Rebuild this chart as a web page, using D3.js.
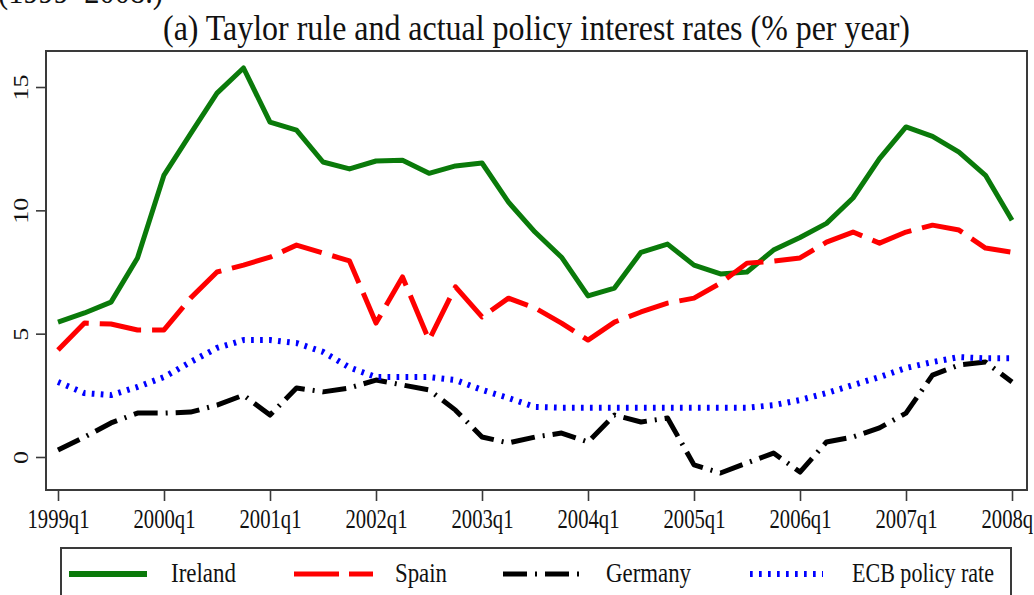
<!DOCTYPE html>
<html lang="en">
<head>
<meta charset="UTF-8">
<title>Taylor rule</title>
<style>
  body { margin:0; background:#fff; }
  svg { display:block; }
  text { font-family: "Liberation Serif", "DejaVu Serif", serif; fill:#111; }
</style>
</head>
<body>
<svg id="CHART" width="1034" height="595"></svg>
<script src="https://cdnjs.cloudflare.com/ajax/libs/d3/7.8.5/d3.min.js"></script>
<script>
// quarters 1999q1 .. 2008q1
const years = [1999, 2000, 2001, 2002, 2003, 2004, 2005, 2006, 2007, 2008];
const quarters = years.flatMap(function(y){ return [1,2,3,4].map(function(q){ return y + "q" + q; }); }).slice(0, 37);
const xTickLabels = ["1999q1","2000q1","2001q1","2002q1","2003q1","2004q1","2005q1","2006q1","2007q1","2008q1"];
const yTickValues = [0, 5, 10, 15];

const ireland = [5.47,5.84,6.28,8.07,11.43,13.1,14.75,15.77,13.58,13.25,11.96,11.68,12.0,12.03,11.5,11.8,11.92,10.33,9.12,8.1,6.53,6.85,8.3,8.63,7.78,7.42,7.5,8.39,8.9,9.47,10.5,12.1,13.38,13.0,12.36,11.42,9.6];
const spain = [4.34,5.43,5.39,5.15,5.15,6.44,7.5,7.78,8.1,8.59,8.27,7.95,5.43,7.3,4.74,6.9,5.68,6.44,6.04,5.43,4.74,5.47,5.88,6.24,6.44,7.05,7.86,7.94,8.07,8.71,9.12,8.67,9.12,9.4,9.2,8.47,8.3];
const germany = [0.28,0.81,1.38,1.78,1.78,1.82,2.1,2.51,1.7,2.8,2.64,2.8,3.12,2.92,2.72,1.9,0.81,0.57,0.81,0.97,0.61,1.7,1.42,1.58,-0.32,-0.65,-0.24,0.16,-0.61,0.61,0.81,1.18,1.78,3.32,3.73,3.85,3.04];
const ecb = [3.04,2.59,2.51,2.84,3.24,3.85,4.42,4.74,4.74,4.62,4.26,3.63,3.24,3.24,3.24,3.12,2.72,2.39,2.03,2.0,2.0,2.0,2.0,2.0,2.0,2.0,2.0,2.1,2.31,2.59,2.92,3.24,3.61,3.85,4.05,4.0,4.0];

const seriesNames = ["Ireland", "Spain", "Germany", "ECB policy rate"];
const seriesData = [ireland, spain, germany, ecb];

// styles
const seriesStyle = [
  { color:"#0a7a0a", width:5, dash:null },
  { color:"#ff0000", width:5, dash:"42,11" },
  { color:"#000000", width:5, dash:"24,8,2,8" },
  { color:"#0000ff", width:6, dash:"2.7,6.3" }
];

const plot = { left:46, top:51, right:1027, bottom:490 };

var svg = d3.select("#CHART");

var x = d3.scalePoint().domain(quarters).range([58, 1012]);
var y = d3.scaleLinear().domain([-1.338, 16.46]).range([plot.bottom, plot.top]);

// stray line from the page above (cut off)
svg.append("text")
  .attr("x", -2).attr("y", 3)
  .attr("font-size", 34)
  .attr("textLength", 165).attr("lengthAdjust", "spacingAndGlyphs")
  .text("(1999–2008.)");

// title
svg.append("text")
  .attr("x", 536.5).attr("y", 40)
  .attr("text-anchor", "middle")
  .attr("font-size", 35)
  .attr("textLength", 747).attr("lengthAdjust", "spacingAndGlyphs")
  .text("(a) Taylor rule and actual policy interest rates (% per year)");

// lines
var line = d3.line()
  .x(function(d, i){ return x(quarters[i]); })
  .y(function(d){ return y(d); });

var lines = svg.append("g");
seriesData.forEach(function(s, k){
  var st = seriesStyle[k];
  lines.append("path")
    .datum(s)
    .attr("d", line)
    .attr("fill", "none")
    .attr("stroke", st.color)
    .attr("stroke-width", st.width)
    .attr("stroke-linejoin", "round")
    .attr("stroke-dasharray", st.dash);
});

// frame
svg.append("rect")
  .attr("x", plot.left).attr("y", plot.top)
  .attr("width", plot.right - plot.left).attr("height", plot.bottom - plot.top)
  .attr("fill", "none").attr("stroke", "#3a3a3a").attr("stroke-width", 2);

// y axis
var yAxis = svg.append("g")
  .attr("transform", "translate(" + plot.left + ",0)")
  .call(d3.axisLeft(y).tickValues(yTickValues).tickSize(10).tickFormat(d3.format("d")));
yAxis.select(".domain").remove();
yAxis.selectAll(".tick line").attr("stroke", "#3a3a3a").attr("stroke-width", 1.6);
yAxis.selectAll(".tick text")
  .attr("x", null).attr("dy", null)
  .attr("fill", "#222")
  .attr("font-family", "Liberation Serif")
  .attr("font-size", 26)
  .attr("text-anchor", "middle")
  .attr("transform", "translate(-18,0) scale(0.8,1) rotate(-90)");

// x axis
var xAxis = svg.append("g")
  .attr("transform", "translate(0," + plot.bottom + ")")
  .call(d3.axisBottom(x).tickValues(xTickLabels).tickSize(11));
xAxis.select(".domain").remove();
xAxis.selectAll(".tick line").attr("stroke", "#3a3a3a").attr("stroke-width", 1.6);
xAxis.selectAll(".tick text")
  .attr("y", 38).attr("dy", null)
  .attr("fill", "#222")
  .attr("font-family", "Liberation Serif")
  .attr("font-size", 28)
  .attr("textLength", 62).attr("lengthAdjust", "spacingAndGlyphs");

// legend
var legend = svg.append("g");
legend.append("rect")
  .attr("x", 61).attr("y", 548)
  .attr("width", 950).attr("height", 70)
  .attr("fill", "none").attr("stroke", "#3a3a3a").attr("stroke-width", 2);

const legendKeyX = [[69,147],[294,373],[503,581],[750,823]];
const legendTextX = [171, 395, 606, 852];
const legendTextW = [65, 52, 85, 142];

seriesNames.forEach(function(name, k){
  var st = seriesStyle[k];
  legend.append("line")
    .attr("x1", legendKeyX[k][0]).attr("x2", legendKeyX[k][1])
    .attr("y1", 574).attr("y2", 574)
    .attr("stroke", st.color)
    .attr("stroke-width", k == 0 ? 6 : st.width)
    .attr("stroke-dasharray", k == 1 ? "45,10" : st.dash);
  legend.append("text")
    .attr("x", legendTextX[k]).attr("y", 582)
    .attr("font-size", 28)
    .attr("textLength", legendTextW[k]).attr("lengthAdjust", "spacingAndGlyphs")
    .text(name);
});
</script>
</body>
</html>
